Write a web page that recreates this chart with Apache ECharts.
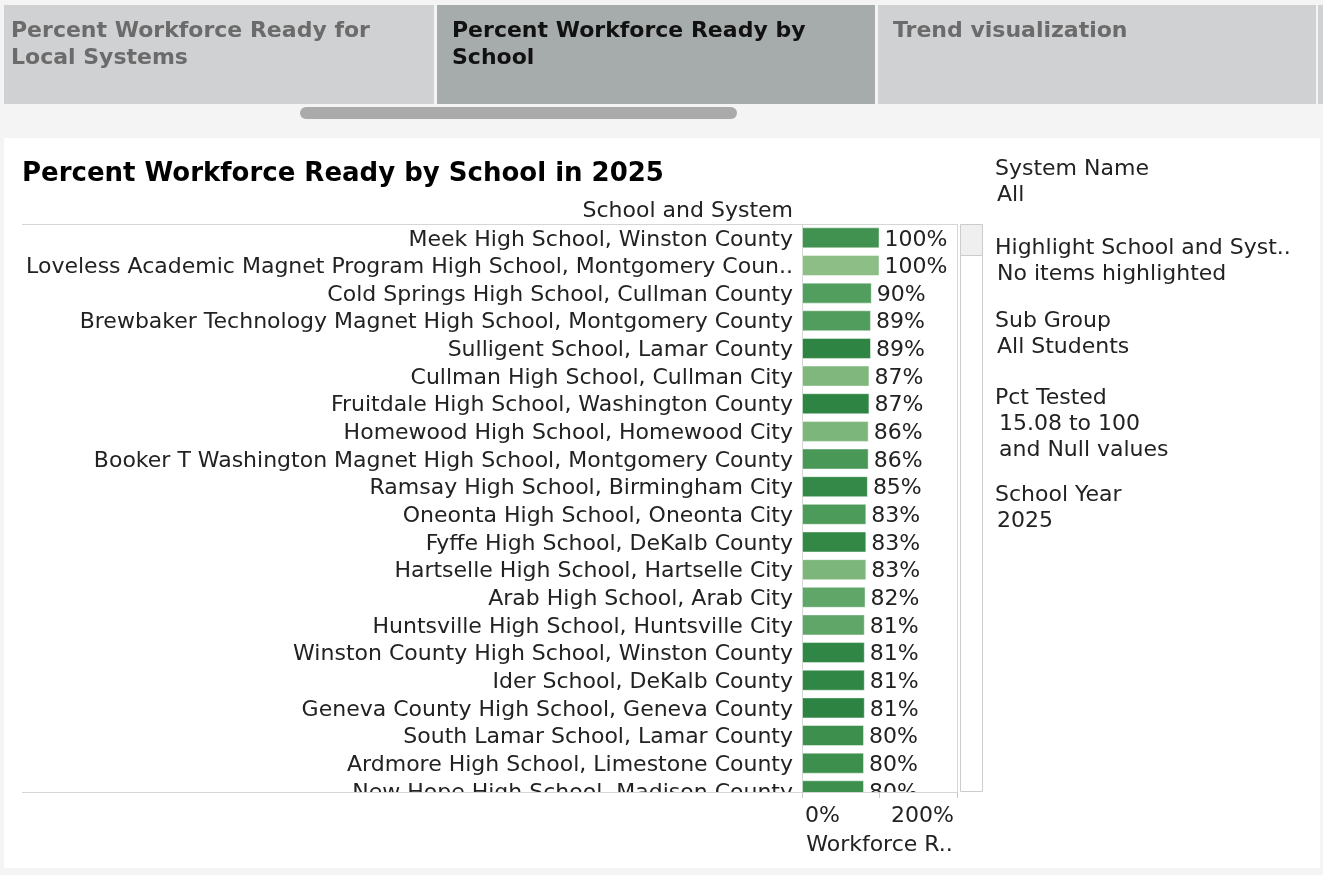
<!DOCTYPE html>
<html>
    <head>
        <meta charset="utf-8">
        <script src="https://cdn.jsdelivr.net/npm/echarts@6/dist/echarts.min.js"></script>
        <style>
            html, body { margin: 0; padding: 0; background: #f4f4f4; }
            #main { width: 1323px; height: 875px; }
        </style>
    </head>
    <body>
        <div id="main"></div>

        <script>

        // rows as they appear, top to bottom (the last one is cut by the scroll pane)
        var schools = [
            'Meek High School, Winston County',
            'Loveless Academic Magnet Program High School, Montgomery Coun..',
            'Cold Springs High School, Cullman County',
            'Brewbaker Technology Magnet High School, Montgomery County',
            'Sulligent School, Lamar County',
            'Cullman High School, Cullman City',
            'Fruitdale High School, Washington County',
            'Homewood High School, Homewood City',
            'Booker T Washington Magnet High School, Montgomery County',
            'Ramsay High School, Birmingham City',
            'Oneonta High School, Oneonta City',
            'Fyffe High School, DeKalb County',
            'Hartselle High School, Hartselle City',
            'Arab High School, Arab City',
            'Huntsville High School, Huntsville City',
            'Winston County High School, Winston County',
            'Ider School, DeKalb County',
            'Geneva County High School, Geneva County',
            'South Lamar School, Lamar County',
            'Ardmore High School, Limestone County',
            'New Hope High School, Madison County'
        ];
        var readyPct = [100, 100, 90, 89, 89, 87, 87, 86, 86, 85, 83, 83, 83, 82, 81, 81, 81, 81, 80, 80, 80];
        // colour measure (0 light .. 100 dark)
        var shade = [78, 15, 60, 62, 97, 25, 97, 27, 68, 90, 65, 92, 27, 48, 48, 95, 95, 98, 82, 82, 82];

        var tabs = [
            ['Percent Workforce Ready for', 'Local Systems'],
            ['Percent Workforce Ready by', 'School'],
            ['Trend visualization']
        ];
        var filters = [
            ['System Name', 'All'],
            ['Highlight School and Syst..', 'No items highlighted'],
            ['Sub Group', 'All Students'],
            ['Pct Tested', '15.08 to 100', 'and Null values'],
            ['School Year', '2025']
        ];
        var xTicks = {0: '0%', 100: '', 200: '200%'};

        var FONT = 'DejaVu Sans';
        var rowH = 27.65;
        var paneTop = 224, paneBottom = 792;

        function txt(x, y, s, size, weight, color, align) {
            return {
                type: 'text', x: x, y: y + 2, z: 120,
                style: {
                    text: s, fill: color, fontSize: size, fontWeight: weight || 'normal',
                    fontFamily: FONT, align: align || 'left', verticalAlign: 'middle',
                    textAlign: align || 'left', textVerticalAlign: 'middle'
                }
            };
        }

        var graphics = [];
        // white dashboard panel
        graphics.push({type: 'rect', z: -10, shape: {x: 4, y: 138, width: 1316, height: 730}, style: {fill: '#ffffff'}});
        // tabs
        var tabBoxes = [[4, 430], [437, 438], [878, 438], [1318, 10]];
        tabBoxes.forEach(function (b, i) {
            graphics.push({type: 'rect', z: -10, shape: {x: b[0], y: 5, width: b[1], height: 99},
                style: {fill: i === 1 ? '#a6abab' : '#d0d1d3'}});
        });
        tabs.forEach(function (lines, i) {
            lines.forEach(function (l, j) {
                graphics.push(txt(tabBoxes[i][0] + (i === 0 ? 7 : 15), 29 + j * 27, l, 22, 'bold', i === 1 ? '#111' : '#6b6b6b'));
            });
        });
        // horizontal tab scroller
        graphics.push({type: 'rect', z: -5, shape: {x: 300, y: 107, width: 437, height: 12, r: 6}, style: {fill: '#aaaaaa'}});

        // title + header
        graphics.push(txt(22, 172, 'Percent Workforce Ready by School in 2025', 26, 'bold', '#000'));
        graphics.push(txt(793, 209, 'School and System', 22, 'normal', '#222', 'right'));

        // pane rules
        graphics.push({type: 'line', z: 110, shape: {x1: 22, y1: paneTop + 0.5, x2: 957, y2: paneTop + 0.5}, style: {stroke: '#d6d6d6', lineWidth: 1}});
        graphics.push({type: 'line', z: 110, shape: {x1: 22, y1: paneBottom + 0.5, x2: 957, y2: paneBottom + 0.5}, style: {stroke: '#d6d6d6', lineWidth: 1}});
        graphics.push({type: 'line', z: 110, shape: {x1: 957.5, y1: paneTop, x2: 957.5, y2: paneBottom}, style: {stroke: '#d6d6d6', lineWidth: 1}});
        // mask for the row cut below the pane
        graphics.push({type: 'rect', z: 100, shape: {x: 4, y: paneBottom + 1, width: 954, height: 15}, style: {fill: '#ffffff'}});

        // vertical scroll bar
        graphics.push({type: 'rect', z: 110, shape: {x: 960.5, y: paneTop + 0.5, width: 22, height: 567}, style: {fill: '#fff', stroke: '#cccccc', lineWidth: 1}});
        graphics.push({type: 'rect', z: 111, shape: {x: 960.5, y: paneTop + 0.5, width: 22, height: 31}, style: {fill: '#efefef', stroke: '#cccccc', lineWidth: 1}});

        // filter cards
        var cardY = [167, 246, 319, 396, 493];
        filters.forEach(function (f, i) {
            f.forEach(function (l, j) {
                graphics.push(txt(j === 0 ? 995 : (i === 3 ? 999 : 997), cardY[i] + j * 26, l, 22, 'normal', '#222'));
            });
        });

        var data = schools.map(function (s, i) {
            return [readyPct[i], s, shade[i]];
        });

        var option = {
            animation: false,
            backgroundColor: 'transparent',
            textStyle: {fontFamily: FONT},
            graphic: graphics,
            visualMap: {
                show: false,
                type: 'continuous',
                dimension: 2,
                seriesIndex: 0,
                min: 0,
                max: 100,
                inRange: {color: ['#a2c993', '#5ca566', '#2b8240']}
            },
            grid: [
                {left: 802, top: paneTop, width: 155, height: rowH * schools.length},
                {left: 802, top: paneBottom - 1, width: 155, height: 1}
            ],
            xAxis: [
                {gridIndex: 0, type: 'value', min: 0, max: 200, show: false},
                {
                    gridIndex: 1, type: 'value', min: 0, max: 200, interval: 100,
                    position: 'bottom',
                    z: 130,
                    axisLine: {show: false},
                    splitLine: {show: false},
                    axisTick: {show: true, length: 6, lineStyle: {color: '#c8c8c8'}},
                    axisLabel: {
                        margin: 13, fontSize: 22, color: '#222', fontFamily: FONT,
                        alignMinLabel: 'left', alignMaxLabel: 'right',
                        formatter: function (v) { return xTicks[v] ? '{t|' + xTicks[v] + '}' : ''; },
                        rich: {t: {fontSize: 22, color: '#222', fontFamily: FONT, padding: [0, 3, 0, 3]}}
                    },
                    name: 'Workforce R..',
                    nameLocation: 'middle',
                    nameGap: 42,
                    nameTextStyle: {fontSize: 22, color: '#222', fontFamily: FONT}
                }
            ],
            yAxis: [
                {
                    gridIndex: 0, type: 'category', inverse: true, data: schools,
                    axisLine: {show: true, lineStyle: {color: '#d6d6d6'}},
                    axisTick: {show: false},
                    axisLabel: {
                        interval: 0, margin: 9, fontSize: 22, color: '#222', fontFamily: FONT,
                        formatter: function (v) { return '{l|' + v + '}'; },
                        rich: {l: {fontSize: 22, color: '#222', fontFamily: FONT, padding: [4, 0, 0, 0]}}
                    }
                },
                {gridIndex: 1, type: 'value', show: false}
            ],
            series: [
                {
                    type: 'bar',
                    xAxisIndex: 0,
                    yAxisIndex: 0,
                    data: data,
                    encode: {x: 0, y: 1},
                    barWidth: 21,
                    itemStyle: {borderColor: 'rgba(255,255,255,0.45)', borderWidth: 1},
                    label: {
                        show: true, position: 'right', distance: 5, offset: [0, 2],
                        fontSize: 22, color: '#222', fontFamily: FONT,
                        formatter: function (p) { return p.value[0] + '%'; }
                    }
                }
            ]
        };

        var myChart = echarts.init(document.getElementById('main'));
        myChart.setOption(option);

        </script>
    </body>
</html>
